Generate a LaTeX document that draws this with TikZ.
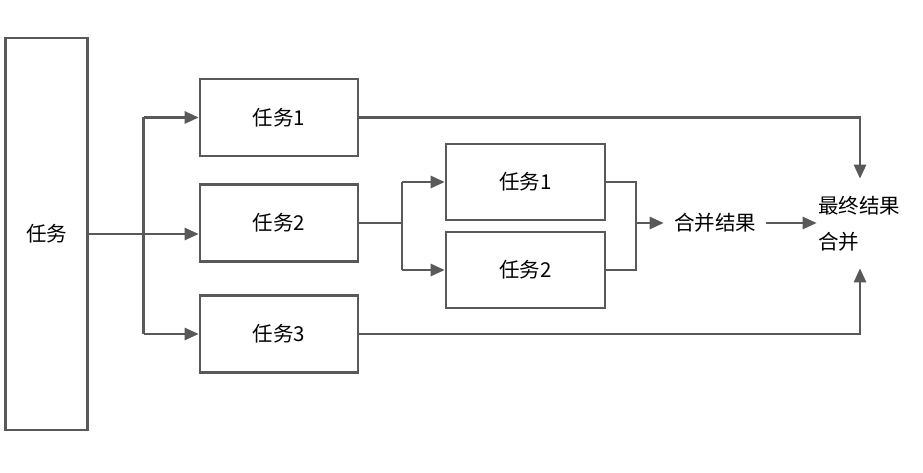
\documentclass[tikz,border=0pt]{standalone}
\usepackage{fontspec}
\setmainfont{Noto Sans CJK SC}
\usetikzlibrary{arrows.meta,calc}
\definecolor{ln}{HTML}{595959}
\begin{document}
\begin{tikzpicture}[x=1pt,y=-1pt,
  line width=2.6pt,
  box/.style={draw=ln, rectangle, inner sep=0pt, minimum width=158pt, minimum height=77pt, font=\fontsize{20.5}{24}\selectfont},
  lbl/.style={inner sep=0pt, font=\fontsize{20.5}{24}\selectfont},
  conn/.style={draw=ln, line width=2.6pt},
  arr/.style={conn, -{Triangle[length=14pt,width=12pt]}}]
\useasboundingbox (0,0) rectangle (923,473);
\node[box, minimum width=82pt, minimum height=392pt] (big) at (46.5,234) {任务};
\node[box] (b1) at (279,117.5) {任务1};
\node[box] (b2) at (279,223) {任务2};
\node[box] (b3) at (279,334) {任务3};
\node[box, minimum width=159pt, minimum height=76pt] (r1) at (525.5,182) {任务1};
\node[box, minimum width=159pt, minimum height=76pt] (r2) at (525.5,270) {任务2};
\node[lbl, inner xsep=9pt] (merge) at (715,223) {合并结果};
\node[lbl, align=left, minimum height=87pt, text width=84pt, font=\fontsize{20.5}{36}\selectfont] (final) at (860,223.5) {最终结果\\合并};
\coordinate (s1) at (143.5,234);
\coordinate (s2) at (402,223);
\coordinate (s3) at (636,223);
% from big task
\draw[conn] (big.east |- s1) -- (s1);
\draw[conn] (s1 |- b1.west) -- (s1 |- b3.west);
\draw[arr] (s1 |- b1.west) -- (b1.west);
\draw[arr] (s1) -- (b2.west |- s1);
\draw[arr] (s1 |- b3.west) -- (b3.west);
% from task 2
\draw[conn] (b2.east) -- (s2);
\draw[conn] (s2 |- r1.west) -- (s2 |- r2.west);
\draw[arr] (s2 |- r1.west) -- (r1.west);
\draw[arr] (s2 |- r2.west) -- (r2.west);
% merge
\draw[conn] (r1.east) -- (s3 |- r1.east) -- (s3 |- r2.east) -- (r2.east);
\draw[arr] (s3) -- (merge.west);
\draw[arr] (merge.east) -- (final.west |- merge.east);
% final
\draw[arr] (b1.east) -- (final.north |- b1.east) -- (final.north);
\draw[arr] (b3.east) -- (final.south |- b3.east) -- (final.south);
\end{tikzpicture}
\end{document}
